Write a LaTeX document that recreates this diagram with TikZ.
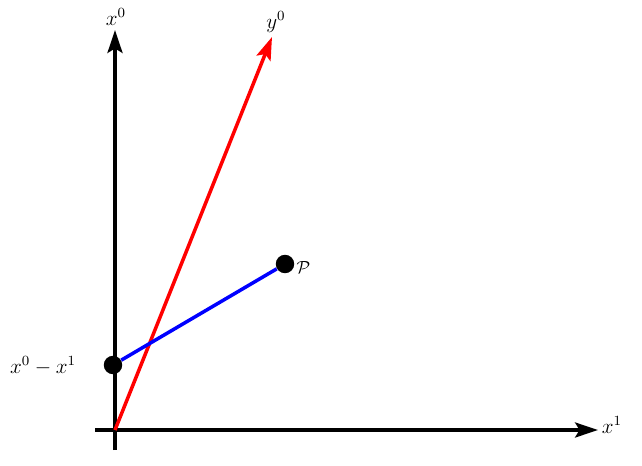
\documentclass[tikz,border=0pt]{standalone}
\usepackage{tikz}
\usetikzlibrary{arrows.meta, positioning, calc}
\usepackage{amsmath, amssymb}

\begin{document}
\begin{tikzpicture}[x=0.02cm, y=-0.02cm,
    axis/.style={line width=2pt, black, -{Stealth[length=13pt, width=8.5pt, inset=2.5pt]}},
    boost/.style={line width=2pt, red, -{Stealth[length=13pt, width=8.5pt, inset=2.5pt]}},
    dot/.style={circle, fill=black, inner sep=0pt, minimum size=10.5pt},
    lbl/.style={font=\large, inner sep=1pt}]
  \useasboundingbox (0,0) rectangle (642,466);
  % frame points
  \coordinate (origin) at (115,430);
  \coordinate (xstart) at (95,430);
  \coordinate (xend) at (598,430);
  \coordinate (tstart) at (115,450);
  \coordinate (tend) at (115,30);
  \coordinate (yend) at (272,37);
  \node[dot] (event) at (285,264) {};
  \node[dot] (cross) at (113,365) {};
  % axes
  \draw[axis] (xstart) -- (xend);
  \draw[axis] (tstart) -- (tend);
  \draw[boost] (origin) -- (yend);
  \draw[line width=2pt, blue] (cross) -- (event);
  % labels
  \node[lbl] (xonelabel) at (612,425) {$x^1$};
  \node[lbl] (xzerolabel) at (116,17) {$x^0$};
  \node[lbl] (yzerolabel) at (276,22) {$y^0$};
  \node[inner sep=1pt, right=0pt of event, yshift=-2pt] (eventlabel) {$\mathcal{P}$};
  \node[lbl] (crosslabel) at (43,366) {$x^0 - x^1$};
\end{tikzpicture}
\end{document}
